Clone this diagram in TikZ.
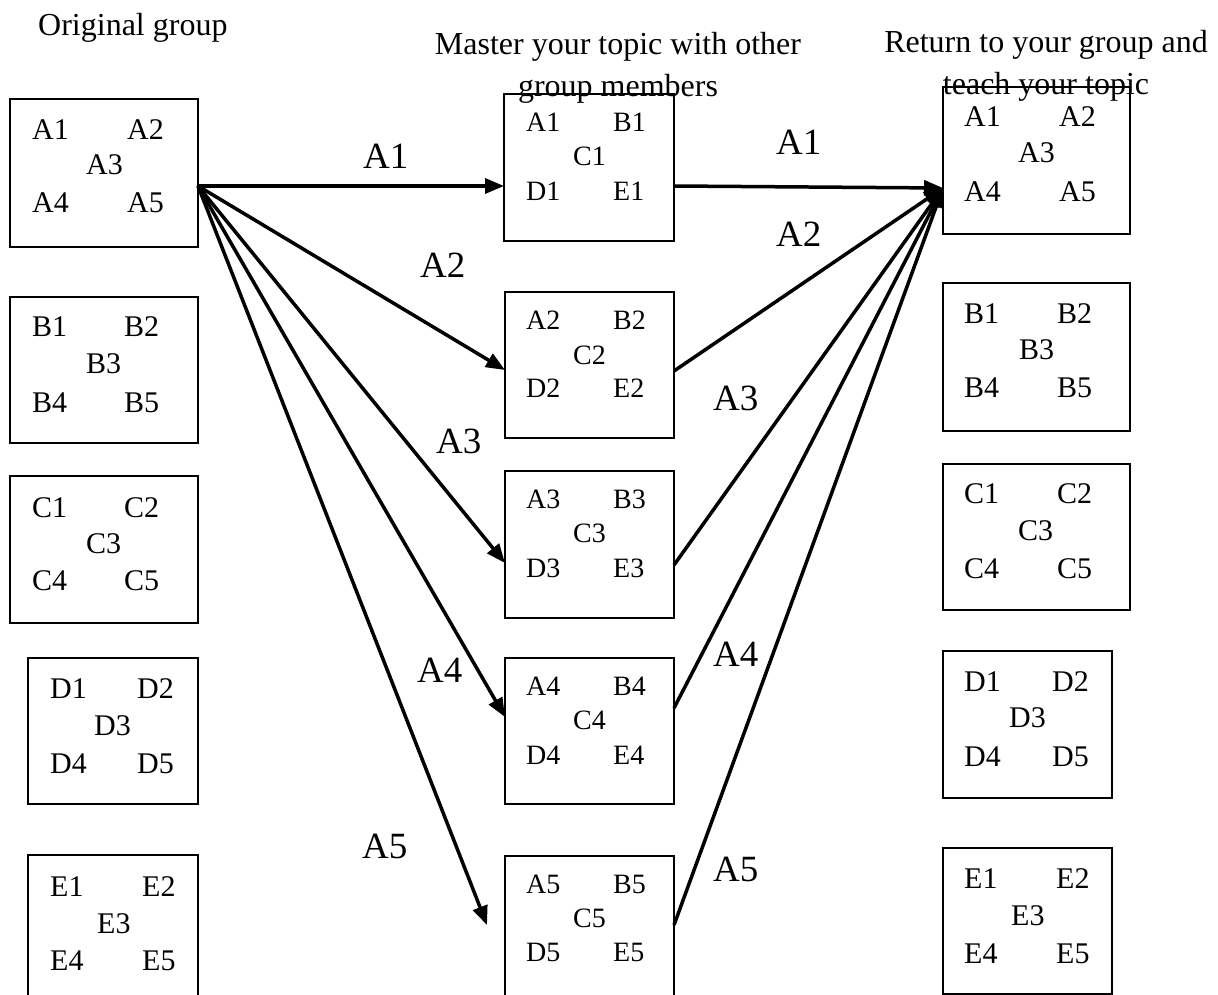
\documentclass[tikz,border=0pt]{standalone}
\usepackage{fontspec}
\setmainfont{Liberation Serif}
\usetikzlibrary{arrows.meta}
\begin{document}
\begin{tikzpicture}[x=1pt,y=-1pt,
  grp/.style={draw,line width=1.8pt,inner sep=0pt,outer sep=0pt,anchor=north west},
  member/.style={anchor=base west,inner sep=0pt,font=\fontsize{30}{36}\selectfont},
  mmember/.style={anchor=base west,inner sep=0pt,font=\fontsize{28}{34}\selectfont},
  flow/.style={line width=3.5pt,-{Triangle[length=19pt,width=15pt]}},
  lbl/.style={anchor=base west,inner sep=0pt,font=\fontsize{37}{44}\selectfont},
  heading/.style={inner sep=0pt,font=\fontsize{32}{40}\selectfont}]

\clip (0,0) rectangle (1218,995);

% column headings
\node[heading,anchor=base west] (t1)  at (38,36)   {Original group};
\node[heading,anchor=base]      (t2a) at (618,55)  {Master your topic with other};
\node[heading,anchor=base]      (t2b) at (618,97)  {group members};
\node[heading,anchor=base]      (t3a) at (1046,53) {Return to your group and};
\node[heading,anchor=base]      (t3b) at (1046,95) {teach your topic};

% group boxes: name / left / top / width / height
\foreach \nm/\x/\y/\w/\h in {
  L1/10/99/188/148, L2/10/297/188/146, L3/10/476/188/147,
  L4/28/658/170/146, L5/28/855/170/147,
  M1/504/94/170/147, M2/505/292/169/146, M3/505/471/169/147,
  M4/505/658/169/146, M5/505/856/169/147,
  R1/943/87/187/147, R2/943/283/187/148, R3/943/464/187/146,
  R4/943/651/169/147, R5/943/848/169/146}
  \node[grp,minimum width=\w pt,minimum height=\h pt] (\nm) at (\x,\y) {};

% home groups: name / x col1 / x col2 / x middle / row baselines / letter
\foreach \nm/\xa/\xb/\xc/\ya/\yb/\yc/\p in {
  L1/32/127/86/140/175/213/A, L2/32/124/86/336/373/412/B,
  L3/32/124/86/517/553/590/C, L4/50/137/94/698/735/773/D,
  L5/50/142/97/896/933/970/E,
  R1/964/1059/1018/127/163/202/A, R2/964/1057/1019/323/359/397/B,
  R3/964/1057/1018/503/540/578/C, R4/964/1052/1009/691/727/766/D,
  R5/964/1056/1011/888/925/963/E}
{
  \node[member] (\nm-1) at (\xa,\ya) {\p1};
  \node[member] (\nm-2) at (\xb,\ya) {\p2};
  \node[member] (\nm-3) at (\xc,\yb) {\p3};
  \node[member] (\nm-4) at (\xa,\yc) {\p4};
  \node[member] (\nm-5) at (\xb,\yc) {\p5};
}

% expert groups: name / topic number / row baselines
\foreach \nm/\k/\ya/\yb/\yc in {
  M1/1/132/166/201, M2/2/329/364/397, M3/3/508/542/577,
  M4/4/695/729/764, M5/5/893/927/961}
{
  \node[mmember] (\nm-a) at (526,\ya) {A\k};
  \node[mmember] (\nm-b) at (613,\ya) {B\k};
  \node[mmember] (\nm-c) at (573,\yb) {C\k};
  \node[mmember] (\nm-d) at (526,\yc) {D\k};
  \node[mmember] (\nm-e) at (613,\yc) {E\k};
}

% connector end points on the boxes
\coordinate (out) at ([yshift=-13pt]L1.east);
\coordinate (in1) at ([yshift=-18.5pt]M1.west);
\coordinate (in2) at ([yshift=-5pt]M2.west);
\coordinate (in3) at ([yshift=-18.5pt]M3.west);
\coordinate (in4) at ([yshift=14pt]M4.west);
\coordinate (in5) at ([xshift=-18pt,yshift=4.5pt]M5.west);
\coordinate (ex1) at ([yshift=-18.5pt]M1.east);
\coordinate (ex2) at ([yshift=-6pt]M2.east);
\coordinate (ex3) at ([yshift=-20.5pt]M3.east);
\coordinate (ex4) at ([yshift=23pt]M4.east);
\coordinate (ex5) at ([yshift=4.5pt]M5.east);
\coordinate (home) at ([yshift=-27.5pt]R1.west);

% A-members go to their expert groups ...
\foreach \i in {1,...,5}
  \draw[flow] (out) -- (in\i);
% ... and come back to teach
\foreach \i in {1,...,5}
  \draw[flow] (ex\i) -- (home);

% connector labels
\node[lbl] (la1) at (363,169) {A1};
\node[lbl] (la2) at (420,277) {A2};
\node[lbl] (la3) at (436,453) {A3};
\node[lbl] (la4) at (417,682) {A4};
\node[lbl] (la5) at (362,858) {A5};
\node[lbl] (ra1) at (776,155) {A1};
\node[lbl] (ra2) at (776,247) {A2};
\node[lbl] (ra3) at (713,410) {A3};
\node[lbl] (ra4) at (713,666) {A4};
\node[lbl] (ra5) at (713,881) {A5};
\end{tikzpicture}
\end{document}
